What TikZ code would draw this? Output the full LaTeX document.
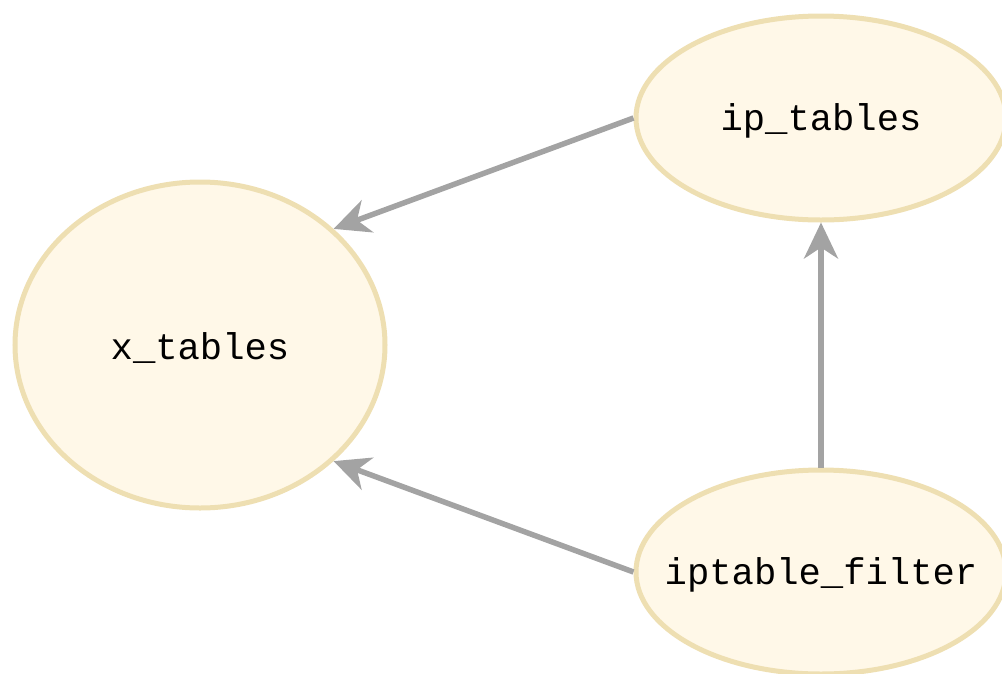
\documentclass[tikz,border=0pt]{standalone}
\usepackage{fontspec}
\setmonofont{Liberation Mono}
\usepackage{xcolor}
\usetikzlibrary{shapes.geometric,arrows.meta}
\definecolor{modfill}{HTML}{FFF8E8}
\definecolor{modline}{HTML}{EEDFB2}
\definecolor{linkgray}{HTML}{A3A3A3}
\newcommand{\modlabel}[1]{\makebox[0pt]{\raisebox{-3pt}[\height][\depth]{#1}}}

\begin{document}
\begin{tikzpicture}[x=1pt, y=-1pt,
    module/.style={ellipse, draw=modline, fill=modfill, line width=5pt, inner sep=0pt,
        font=\fontsize{37.2}{40}\ttfamily, text=black},
    link/.style={draw=linkgray, line width=5.5pt, -{Stealth[length=36pt, width=34pt, inset=11pt]}}]
        \useasboundingbox (0, 0) rectangle (1002, 673);
        % modules
        \node[module, minimum width=370pt, minimum height=326pt] (xtables) at (200, 345) {\modlabel{x\_tables}};
        \node[module, minimum width=370pt, minimum height=204pt] (iptables) at (821, 118) {\modlabel{ip\_tables}};
        \node[module, minimum width=370pt, minimum height=204pt] (iptfilter) at (821, 572) {\modlabel{iptable\_filter}};
        % dependencies
        \draw[link] (iptables.west) -- (xtables.41);
        \draw[link] (iptfilter.west) -- (xtables.-41);
        \draw[link] (iptfilter.north) -- (iptables.south);
\end{tikzpicture}
\end{document}
